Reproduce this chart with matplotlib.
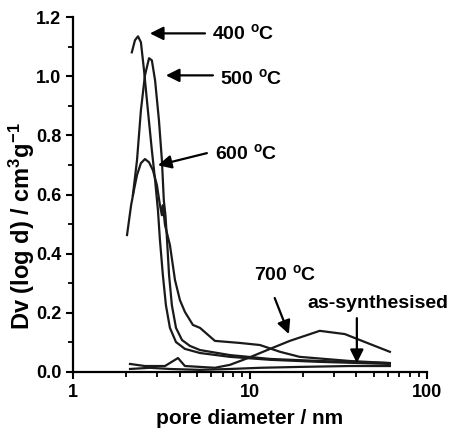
import matplotlib
matplotlib.use('Agg')
import matplotlib.pyplot as plt
from matplotlib.ticker import MultipleLocator, FormatStrFormatter, FuncFormatter, NullFormatter, LogLocator

plt.rcParams['font.family'] = 'Liberation Sans'
plt.rcParams['font.weight'] = 'bold'
plt.rcParams['axes.labelweight'] = 'bold'
plt.rcParams['mathtext.fontset'] = 'custom'
plt.rcParams['mathtext.rm'] = 'Liberation Sans:bold'
plt.rcParams['mathtext.bf'] = 'Liberation Sans:bold'
plt.rcParams['mathtext.default'] = 'bf'

# pore size distributions
d_400 = [2.15, 2.24, 2.33, 2.42, 2.52, 2.65, 2.79, 2.91, 3.02, 3.10, 3.22, 3.35, 3.53, 3.82, 4.29, 5.22, 7.71, 13.0, 24.8, 61.8]
dv_400 = [1.081, 1.122, 1.135, 1.115, 1.020, 0.885, 0.750, 0.649, 0.547, 0.446, 0.328, 0.226, 0.149, 0.101, 0.078, 0.064, 0.051, 0.041, 0.034, 0.027]

d_500 = [2.18, 2.30, 2.42, 2.55, 2.69, 2.79, 2.91, 3.06, 3.18, 3.26, 3.33, 3.40, 3.49, 3.62, 3.82, 4.13, 4.58, 5.22, 7.71, 13.0, 24.8, 61.8]
dv_500 = [0.598, 0.716, 0.885, 1.003, 1.061, 1.054, 0.986, 0.851, 0.716, 0.581, 0.530, 0.446, 0.328, 0.226, 0.149, 0.108, 0.088, 0.074, 0.057, 0.044, 0.037, 0.030]

d_600 = [2.02, 2.13, 2.21, 2.30, 2.42, 2.55, 2.69, 2.83, 2.98, 3.10, 3.18, 3.22, 3.31, 3.53, 3.77, 4.02, 4.29, 4.76, 5.22, 6.34, 8.78, 11.4, 14.8, 19.1, 36.7, 61.8]
dv_600 = [0.463, 0.564, 0.615, 0.666, 0.706, 0.720, 0.709, 0.682, 0.632, 0.564, 0.530, 0.564, 0.497, 0.429, 0.311, 0.243, 0.203, 0.159, 0.149, 0.105, 0.098, 0.091, 0.068, 0.051, 0.037, 0.030]

d_700 = [2.10, 2.55, 3.31, 3.92, 4.29, 5.22, 6.34, 7.71, 9.75, 13.0, 16.8, 24.8, 34.4, 44.7, 61.8]
dv_700 = [0.027, 0.020, 0.020, 0.047, 0.020, 0.017, 0.014, 0.024, 0.047, 0.078, 0.105, 0.139, 0.128, 0.101, 0.068]

d_as = [2.10, 2.72, 3.53, 5.22, 7.71, 11.4, 19.1, 36.7, 61.8]
dv_as = [0.010, 0.014, 0.010, 0.007, 0.010, 0.014, 0.017, 0.020, 0.020]

fig = plt.figure(figsize=(4.65, 4.28), dpi=100)
ax = fig.add_axes([0.157, 0.131, 0.761, 0.829])

for d, dv in [(d_400, dv_400), (d_500, dv_500), (d_600, dv_600), (d_700, dv_700), (d_as, dv_as)]:
    ax.plot(d, dv, color='#1a1a1a', lw=1.6)

ax.set_xscale('log')
ax.set_xlim(1, 100)
ax.set_ylim(0, 1.2)
ax.spines['top'].set_visible(False)
ax.spines['right'].set_visible(False)
ax.spines['left'].set_linewidth(1.6)
ax.spines['bottom'].set_linewidth(1.6)

ax.yaxis.set_major_locator(MultipleLocator(0.2))
ax.yaxis.set_minor_locator(MultipleLocator(0.1))
ax.yaxis.set_major_formatter(FormatStrFormatter('%.1f'))
ax.xaxis.set_major_formatter(FuncFormatter(lambda v, p: f'{v:g}'))
ax.xaxis.set_minor_locator(LogLocator(base=10, subs=range(2, 10)))
ax.xaxis.set_minor_formatter(NullFormatter())
ax.tick_params(which='major', length=5, width=1.5, labelsize=13)
ax.tick_params(which='minor', length=3.5, width=1.3)

ax.set_xlabel('pore diameter / nm', fontsize=15, labelpad=6)
ax.set_ylabel(r'Dv (log d) / cm$^{3}$g$^{-1}$', fontsize=17)
ax.yaxis.set_label_coords(-0.103, 0.41)

arrow = dict(arrowstyle='-|>', color='k', lw=1.6, mutation_scale=20, shrinkA=0, shrinkB=0)
ax.annotate('', xy=(2.72, 1.145), xytext=(5.57, 1.145), arrowprops=arrow)
ax.text(6.1, 1.145, '400 $^{o}$C', fontsize=14, va='center', ha='left')
ax.annotate('', xy=(3.35, 1.003), xytext=(6.18, 1.003), arrowprops=arrow)
ax.text(6.77, 0.995, '500 $^{o}$C', fontsize=14, va='center', ha='left')
ax.annotate('', xy=(3.02, 0.699), xytext=(5.71, 0.740), arrowprops=arrow)
ax.text(6.34, 0.740, '600 $^{o}$C', fontsize=14, va='center', ha='left')
ax.annotate('', xy=(16.6, 0.128), xytext=(13.8, 0.25), arrowprops=arrow)
ax.text(10.5, 0.331, '700 $^{o}$C', fontsize=14, va='center', ha='left')
ax.annotate('', xy=(40.2, 0.030), xytext=(40.2, 0.182), arrowprops=arrow)
ax.text(21.0, 0.233, 'as-synthesised', fontsize=14, va='center', ha='left')

fig.savefig('out.png', dpi=100)
